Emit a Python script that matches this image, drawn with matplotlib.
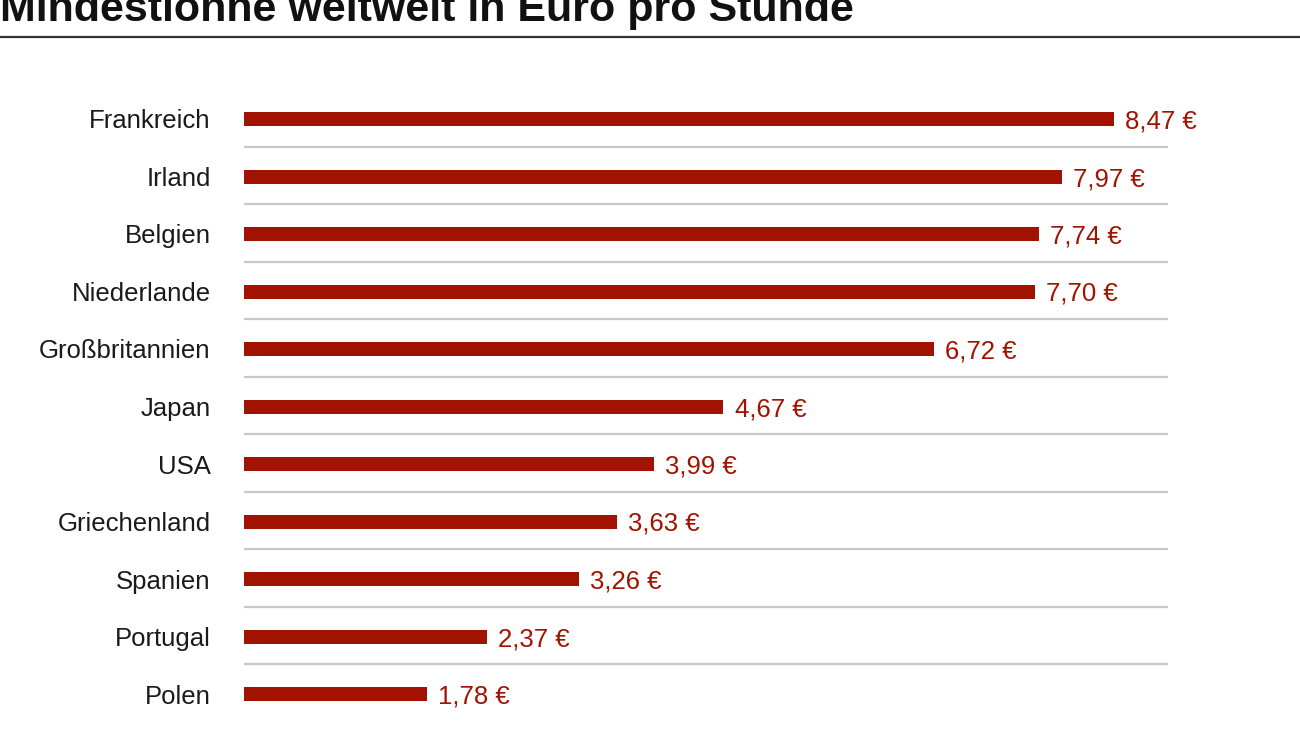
import matplotlib.pyplot as plt
from matplotlib.lines import Line2D

countries = ["Frankreich", "Irland", "Belgien", "Niederlande", "Großbritannien",
             "Japan", "USA", "Griechenland", "Spanien", "Portugal", "Polen"]
wages = [8.47, 7.97, 7.74, 7.70, 6.72, 4.67, 3.99, 3.63, 3.26, 2.37, 1.78]
value_labels = ["8,47 €", "7,97 €", "7,74 €", "7,70 €", "6,72 €", "4,67 €",
                "3,99 €", "3,63 €", "3,26 €", "2,37 €", "1,78 €"]
title = "Mindestlöhne weltweit in Euro pro Stunde"

BAR_RED = "#a11300"
W, H, DPI = 1300, 731, 100

plt.rcParams["font.family"] = ["Liberation Sans", "DejaVu Sans"]

fig = plt.figure(figsize=(W / DPI, H / DPI), dpi=DPI)

# axes: x 0..9 spans px 244..1168, rows -0.5..10.5 span px 90..723
left, right = 244 / W, 1168 / W
top_px, bot_px = 90.25, 722.75
ax = fig.add_axes([left, 1 - bot_px / H, right - left, (bot_px - top_px) / H])

n = len(countries)
ypos = list(range(n))
bar_h = 14 / 57.5
ax.barh(ypos, wages, height=bar_h, color=BAR_RED, zorder=3)

for y, w, lab in zip(ypos, wages, value_labels):
    ax.annotate(lab, xy=(w, y), xytext=(8, 0), textcoords="offset points",
                va="center_baseline", ha="left", fontsize=18.5, color=BAR_RED)

for i in range(n - 1):
    ax.plot([0, 9], [i + 0.48, i + 0.48], color="#c8c8c8", lw=1.6,
            solid_capstyle="butt", zorder=1)

ax.set_xlim(0, 9)
ax.set_ylim(n - 0.5, -0.5)
ax.set_yticks(ypos)
ax.set_yticklabels(countries, fontsize=18.5, color="#1a1a1a",
                   va="center_baseline")
ax.tick_params(axis="y", length=0, pad=24)
ax.set_xticks([])
for s in ax.spines.values():
    s.set_visible(False)

# title, clipped at the top edge like the source
fig.text(0.0, 1 - 21.5 / H, title, fontsize=31, fontweight="bold",
         ha="left", va="baseline", color="#111111")
fig.add_artist(Line2D([0, 1], [1 - 37 / H, 1 - 37 / H], color="#333333",
                      lw=1.6, transform=fig.transFigure))

fig.savefig("out.png", dpi=DPI)
